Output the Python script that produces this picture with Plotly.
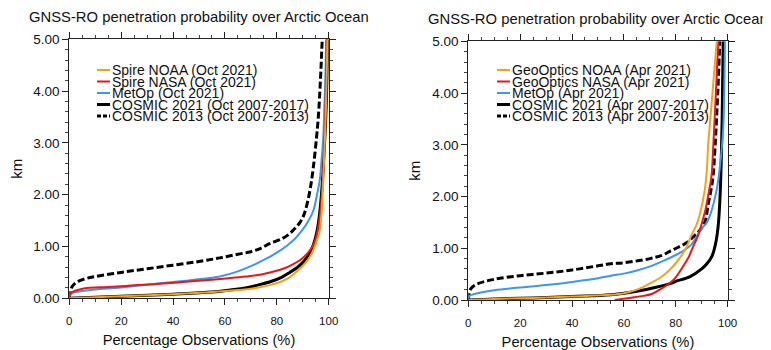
import plotly.graph_objects as go

# page body has an 8px margin: the figure is sized to the visible window area
OFF = 8
W, H = 771 - OFF, 350 - OFF

# ---------------- data : left panel (October) ----------------
oct_names = ["Spire NOAA (Oct 2021)", "Spire NASA (Oct 2021)", "MetOp (Oct 2021)",
             "COSMIC 2021 (Oct 2007-2017)", "COSMIC 2013 (Oct 2007-2013)"]

oct_spire_noaa_pct = [0, 10, 25, 40, 55, 65, 72, 77, 82, 85, 88, 91, 93, 95, 96.5, 97.3, 98, 98.7, 99.2, 99.5]
oct_spire_noaa_km = [0.0, 0.02, 0.05, 0.08, 0.12, 0.16, 0.2, 0.25, 0.33, 0.41, 0.53, 0.68, 0.82, 1.05, 1.3, 1.7, 2.4, 3.3, 4.2, 5.0]

oct_spire_nasa_pct = [0, 0.5, 1.5, 4, 7, 15, 25, 35, 45, 55, 62, 68, 74, 79, 83, 86, 89, 91.5, 93.5, 95, 96.2, 97.2, 98, 98.7, 99.2]
oct_spire_nasa_km = [0.03, 0.1, 0.13, 0.17, 0.2, 0.22, 0.25, 0.28, 0.32, 0.36, 0.39, 0.42, 0.46, 0.52, 0.58, 0.65, 0.74, 0.85, 0.98, 1.15, 1.45, 1.9, 2.6, 3.6, 5.0]

oct_metop_pct = [0, 0.5, 1.5, 5, 10, 20, 35, 45, 54, 58, 65, 70, 75, 80, 84, 87, 90, 92, 94, 95.5, 96.6, 97.3, 97.9, 98.4, 98.8, 99.0]
oct_metop_km = [0.02, 0.08, 0.11, 0.14, 0.17, 0.21, 0.29, 0.34, 0.39, 0.42, 0.52, 0.62, 0.74, 0.88, 1.02, 1.15, 1.33, 1.48, 1.68, 2.0, 2.3, 2.7, 3.1, 3.8, 4.4, 5.0]

oct_cosmic21_pct = [0, 10, 25, 40, 55, 62, 68, 73, 78, 82, 85, 88, 90.5, 92.5, 94, 95.3, 96.3, 97.2, 98, 98.8, 99.4, 99.7]
oct_cosmic21_km = [0.0, 0.02, 0.05, 0.08, 0.12, 0.16, 0.2, 0.26, 0.33, 0.41, 0.5, 0.6, 0.72, 0.86, 1.02, 1.25, 1.55, 2.0, 2.6, 3.4, 4.3, 5.0]

oct_cosmic13_pct = [0, 0.3, 1, 2, 4, 7, 10, 20, 30, 40, 50, 58, 65, 70, 74, 77, 82, 85, 87, 89, 90.5, 91.8, 93, 94, 95, 96, 96.8, 97.5]
oct_cosmic13_km = [0.0, 0.12, 0.22, 0.28, 0.34, 0.39, 0.42, 0.5, 0.57, 0.64, 0.71, 0.78, 0.85, 0.9, 0.97, 1.05, 1.15, 1.25, 1.35, 1.47, 1.62, 1.85, 2.15, 2.5, 2.95, 3.5, 4.2, 5.0]

# ---------------- data : right panel (April) ----------------
apr_names = ["GeoOptics NOAA (Apr 2021)", "GeoOptics NASA (Apr 2021)", "MetOp (Apr 2021)",
             "COSMIC 2021 (Apr 2007-2017)", "COSMIC 2013 (Apr 2007-2013)"]

apr_geo_noaa_pct = [0, 10, 25, 40, 55, 60, 65, 70, 74, 77, 80, 82.5, 84.2, 86, 88, 89.5, 91.2, 92, 92.5, 93.5, 94.5, 95.8]
apr_geo_noaa_km = [0.0, 0.02, 0.04, 0.07, 0.1, 0.13, 0.2, 0.32, 0.43, 0.55, 0.71, 0.88, 1.03, 1.25, 1.45, 1.7, 2.13, 2.5, 3.0, 3.6, 4.2, 5.0]

apr_geo_nasa_pct = [56.5, 62, 67.5, 71, 74.5, 77, 79, 80.5, 82.3, 84.8, 86.7, 88.7, 90.6, 91.5, 92.8, 93.8, 94.5, 95.3, 96.4]
apr_geo_nasa_km = [0.0, 0.04, 0.08, 0.12, 0.22, 0.3, 0.38, 0.47, 0.61, 0.81, 1.03, 1.26, 1.58, 1.75, 2.1, 2.4, 3.0, 3.8, 5.0]

apr_metop_pct = [0, 0.5, 2, 10, 20, 30, 40, 50, 55, 60, 65, 70.7, 75, 80, 83.5, 86, 88, 90, 92, 93.5, 95, 96.2, 97.3, 98.3, 98.7, 99.0]
apr_metop_km = [0.03, 0.08, 0.11, 0.19, 0.24, 0.29, 0.35, 0.42, 0.47, 0.51, 0.57, 0.66, 0.75, 0.87, 0.97, 1.07, 1.22, 1.38, 1.5, 1.68, 1.95, 2.25, 2.7, 3.3, 4.0, 5.0]

apr_cosmic21_pct = [0, 10, 25, 40, 55, 65, 72, 78, 80, 85.5, 90, 92, 94, 95.2, 96.3, 97, 97.5, 97.9, 98.3]
apr_cosmic21_km = [0.0, 0.02, 0.04, 0.07, 0.1, 0.17, 0.24, 0.32, 0.36, 0.45, 0.6, 0.7, 0.85, 1.05, 1.4, 1.9, 2.6, 3.5, 5.0]

apr_cosmic13_pct = [0, 0.3, 1, 3, 10, 20, 30, 40, 50, 55, 60, 70, 75, 78, 81, 84, 86.7, 89, 91.2, 92.5, 93.5, 94.4, 95.2, 96.2, 97.0]
apr_cosmic13_km = [0.0, 0.12, 0.22, 0.3, 0.4, 0.47, 0.52, 0.58, 0.66, 0.7, 0.72, 0.8, 0.87, 0.95, 1.02, 1.1, 1.22, 1.33, 1.5, 1.85, 2.1, 2.4, 3.0, 4.0, 5.0]

x_tickvals = [0, 20, 40, 60, 80, 100]
y_tickvals = [0, 1, 2, 3, 4, 5]
y_ticktext = ["0.00", "1.00", "2.00", "3.00", "4.00", "5.00"]

panel_title = "GNSS-RO penetration probability over Arctic Ocean"
x_title = "Percentage Observations (%)"
y_title = "km"

# ---------------- styles ----------------
ORANGE = "#F5A11E"
RED = "#EE1515"
BLUE = "#3C97EE"
BLACK = "#000000"
FONT = "Liberation Sans, Arial, Helvetica, sans-serif"

styles = [
    dict(color=ORANGE, width=2, dash="solid"),
    dict(color=RED, width=2, dash="solid"),
    dict(color=BLUE, width=2, dash="solid"),
    dict(color=BLACK, width=3, dash="solid"),
    dict(color=BLACK, width=3, dash="7px,3px"),
]

left_series = [
    (oct_spire_noaa_pct, oct_spire_noaa_km),
    (oct_spire_nasa_pct, oct_spire_nasa_km),
    (oct_metop_pct, oct_metop_km),
    (oct_cosmic21_pct, oct_cosmic21_km),
    (oct_cosmic13_pct, oct_cosmic13_km),
]
right_series = [
    (apr_geo_noaa_pct, apr_geo_noaa_km),
    (apr_geo_nasa_pct, apr_geo_nasa_km),
    (apr_metop_pct, apr_metop_km),
    (apr_cosmic21_pct, apr_cosmic21_km),
    (apr_cosmic13_pct, apr_cosmic13_km),
]

fig = go.Figure()

order = [4, 3, 2, 1, 0]
for i in order:
    x, y = left_series[i]
    fig.add_trace(go.Scatter(x=x, y=y, mode="lines", name=oct_names[i], line=styles[i],
                             xaxis="x", yaxis="y", showlegend=False, line_shape="spline"))
for i in order:
    x, y = right_series[i]
    fig.add_trace(go.Scatter(x=x, y=y, mode="lines", name=apr_names[i], line=styles[i],
                             xaxis="x2", yaxis="y2", showlegend=False, line_shape="spline"))

# panel geometry in window pixels
L = dict(x0=69.3, x1=328.7, y0=298.3, y1=39.3)
R = dict(x0=468.3, x1=727.6, y0=300.0, y1=41.3)


def px2x(p):
    return (p - OFF) / W


def px2y(p):
    return 1 - (p - OFF) / H


def xaxis_def(panel, anchor):
    return dict(
        domain=[px2x(panel["x0"]), px2x(panel["x1"])], anchor=anchor, automargin=False,
        range=[0, 100], tickvals=x_tickvals, ticks="outside", ticklen=6, tickwidth=1.2,
        tickcolor="#222", showline=True, linecolor="#222", linewidth=1.3, mirror="allticks",
        showgrid=False, zeroline=False, ticklabelstandoff=6,
        tickfont=dict(family=FONT, size=11.5, color="#111"),
        minor=dict(dtick=5, ticks="outside", ticklen=3, tickwidth=1, tickcolor="#444", showgrid=False),
        title=dict(text=x_title, font=dict(family=FONT, size=14.7, color="#111"), standoff=8),
    )


def yaxis_def(panel, anchor):
    return dict(
        domain=[px2y(panel["y0"]), px2y(panel["y1"])], anchor=anchor, automargin=False,
        range=[0, 5], tickvals=y_tickvals, ticktext=y_ticktext, ticks="outside", ticklen=6, tickwidth=1.2,
        tickcolor="#222", showline=True, linecolor="#222", linewidth=1.3, mirror="allticks",
        showgrid=False, zeroline=False,
        tickfont=dict(family=FONT, size=13.5, color="#111"),
        minor=dict(dtick=0.2, ticks="outside", ticklen=3, tickwidth=1, tickcolor="#444", showgrid=False),
        title=dict(text=y_title, font=dict(family=FONT, size=15, color="#111"), standoff=7),
    )


annotations = []
shapes = []

for panel, ty in ((L, 17), (R, 19)):
    annotations.append(dict(text=panel_title, x=px2x((panel["x0"] + panel["x1"]) / 2), y=px2y(ty),
                            xref="paper", yref="paper", xanchor="center", yanchor="middle",
                            showarrow=False, font=dict(family=FONT, size=14.8, color="#111")))

rows = [70, 81.5, 93, 104.5, 116]
for names, lx in ((oct_names, 97), (apr_names, 497)):
    for i, name in enumerate(names):
        yy = rows[i]
        st = styles[i]
        shapes.append(dict(type="line", xref="paper", yref="paper",
                           x0=px2x(lx), x1=px2x(lx + 13), y0=px2y(yy), y1=px2y(yy),
                           line=dict(color=st["color"], width=st["width"],
                                     dash="4px,2px" if st["dash"] != "solid" else "solid")))
        annotations.append(dict(text=name, x=px2x(lx + 13), y=px2y(yy), xref="paper", yref="paper",
                                xanchor="left", yanchor="middle", showarrow=False,
                                font=dict(family=FONT, size=14, color="#111")))

fig.update_layout(
    width=W, height=H, margin=dict(l=0, r=0, t=0, b=0, autoexpand=False),
    paper_bgcolor="white", plot_bgcolor="white",
    xaxis=xaxis_def(L, "y"), yaxis=yaxis_def(L, "x"),
    xaxis2=xaxis_def(R, "y2"), yaxis2=yaxis_def(R, "x2"),
    annotations=annotations, shapes=shapes, showlegend=False,
)

fig.write_html("out.html")
